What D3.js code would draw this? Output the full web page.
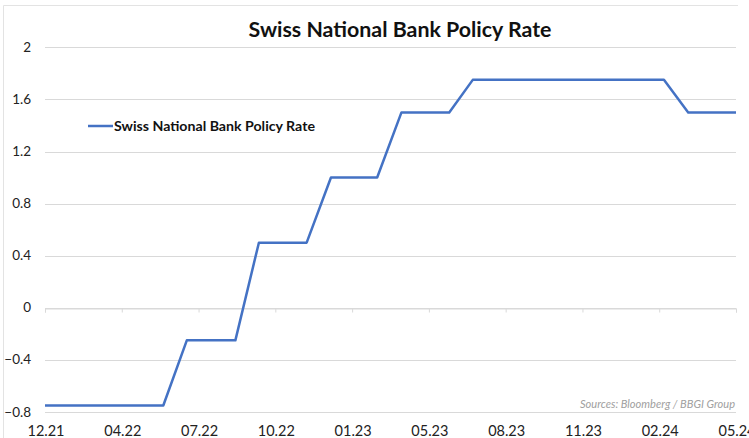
<!DOCTYPE html>
<html>
<head>
<meta charset="utf-8">
<script src="https://cdn.jsdelivr.net/npm/d3@7"></script>
<style>
  body { margin: 0; background: #fff; }
  svg { display: block; font-family: Lato, "Open Sans", sans-serif; }
</style>
</head>
<body>
<svg width="749" height="438"></svg>
<script>
// month-end dates and SNB policy rate (%)
const DATES = [
  '2021-12-31', '2022-01-31', '2022-02-28', '2022-03-31', '2022-04-30', '2022-05-31',
  '2022-06-30', '2022-07-31', '2022-08-31', '2022-09-30', '2022-10-31', '2022-11-30',
  '2022-12-31', '2023-01-31', '2023-02-28', '2023-03-31', '2023-04-30', '2023-05-31',
  '2023-06-30', '2023-07-31', '2023-08-31', '2023-09-30', '2023-10-31', '2023-11-30',
  '2023-12-31', '2024-01-31', '2024-02-29', '2024-03-31', '2024-04-30', '2024-05-31',
];
const RATES = [
  -0.75, -0.75, -0.75, -0.75, -0.75, -0.75,
  -0.25, -0.25, -0.25, 0.5, 0.5, 0.5,
  1.0, 1.0, 1.0, 1.5, 1.5, 1.5,
  1.75, 1.75, 1.75, 1.75, 1.75, 1.75,
  1.75, 1.75, 1.75, 1.5, 1.5, 1.5,
];
const X_TICKS = [
  '2021-12-31', '2022-04-08', '2022-07-15', '2022-10-21', '2023-01-27',
  '2023-05-05', '2023-08-11', '2023-11-17', '2024-02-23', '2024-05-31',
];
const Y_TICKS = [-0.8, -0.4, 0, 0.4, 0.8, 1.2, 1.6, 2];

const parse = d3.timeParse('%Y-%m-%d');
const data = DATES.map((d, i) => ({ date: parse(d), value: RATES[i] }));

const svg = d3.select('svg');
const grid = '#d9d9d9';

// chart frame
svg.append('path')
  .attr('d', 'M3.5,438 V5.5 H738')
  .attr('fill', 'none')
  .attr('stroke', '#e3e3e3');

const x = d3.scaleTime()
  .domain([parse(DATES[0]), parse(DATES[DATES.length - 1])])
  .range([45, 736]);
const y = d3.scaleLinear().domain([-0.8, 2]).range([412, 47.3]);

// horizontal gridlines
svg.append('g')
  .selectAll('line')
  .data(Y_TICKS)
  .join('line')
  .attr('x1', 45).attr('x2', 736)
  .attr('y1', (d) => Math.round(y(d)) + 0.5)
  .attr('y2', (d) => Math.round(y(d)) + 0.5)
  .attr('stroke', grid);

// y labels
svg.append('g')
  .selectAll('text')
  .data(Y_TICKS)
  .join('text')
  .attr('x', 31)
  .attr('y', (d) => y(d) + 4.5)
  .attr('text-anchor', 'end')
  .attr('font-size', 13.5)
  .attr('fill', '#222')
  .text((d) => d3.format('')(d));

// x axis sits on the zero line, ticks pointing down
const xAxis = svg.append('g')
  .attr('transform', `translate(0,${Math.round(y(0)) + 0.5})`)
  .call(d3.axisBottom(x).tickValues(X_TICKS.map(parse)).tickSize(4).tickFormat(''));
xAxis.select('.domain').attr('stroke', grid);
xAxis.selectAll('.tick line').attr('stroke', grid);

// x labels at the bottom
svg.append('g')
  .selectAll('text')
  .data(X_TICKS.map(parse))
  .join('text')
  .attr('x', (d) => x(d) + 1)
  .attr('y', 436)
  .attr('text-anchor', 'middle')
  .attr('font-size', 14.5)
  .attr('fill', '#222')
  .text(d3.timeFormat('%m.%y'));

// the rate line
svg.append('path')
  .datum(data)
  .attr('fill', 'none')
  .attr('stroke', '#4472C4')
  .attr('stroke-width', 2.5)
  .attr('stroke-linejoin', 'round')
  .attr('d', d3.line().x((d) => x(d.date)).y((d) => y(d.value)));

// title
svg.append('text')
  .attr('x', 400)
  .attr('y', 37)
  .attr('text-anchor', 'middle')
  .attr('font-size', 20.5)
  .attr('font-weight', 'bold')
  .attr('fill', '#111')
  .attr('textLength', 303)
  .attr('lengthAdjust', 'spacingAndGlyphs')
  .text('Swiss National Bank Policy Rate');

// legend
svg.append('line')
  .attr('x1', 88).attr('x2', 113)
  .attr('y1', 126).attr('y2', 126)
  .attr('stroke', '#4472C4')
  .attr('stroke-width', 2.5);
svg.append('text')
  .attr('x', 114)
  .attr('y', 131)
  .attr('font-size', 13.5)
  .attr('font-weight', 'bold')
  .attr('fill', '#111')
  .attr('textLength', 201)
  .attr('lengthAdjust', 'spacingAndGlyphs')
  .text('Swiss National Bank Policy Rate');

// source note
svg.append('text')
  .attr('x', 735)
  .attr('y', 408)
  .attr('text-anchor', 'end')
  .attr('font-size', 10.5)
  .attr('font-style', 'italic')
  .attr('fill', '#a0a0a0')
  .attr('textLength', 155)
  .attr('lengthAdjust', 'spacingAndGlyphs')
  .text('Sources: Bloomberg / BBGI Group');
</script>
</body>
</html>
